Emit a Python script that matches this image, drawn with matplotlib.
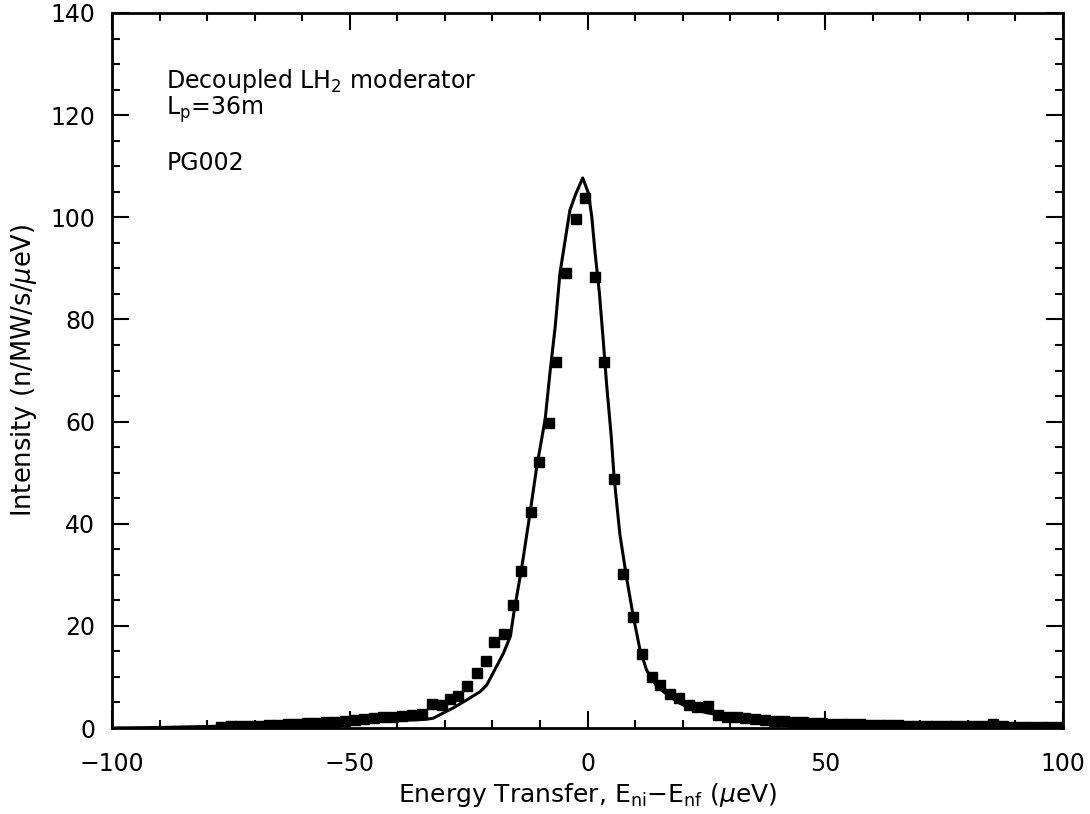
import matplotlib
matplotlib.use("Agg")
import matplotlib.pyplot as plt
from matplotlib.ticker import MultipleLocator

plt.rcParams['font.family'] = ['DejaVu Sans']
plt.rcParams['mathtext.fontset'] = 'dejavusans'

# Measured data (squares)
data_x = [-77, -75, -73, -71, -69, -67, -65, -63, -61, -59, -57, -55, -53, -51,
          -49, -47, -45, -43, -41, -39, -36.9, -34.8, -32.8, -30.7, -28.9, -27.2,
          -25.3, -23.3, -21.4, -19.7, -17.6, -15.7, -14.0, -11.9, -10.1, -8.2,
          -6.6, -4.5, -2.4, -0.5, 1.6, 3.5, 5.6, 7.4, 9.5, 11.4, 13.5, 15.2,
          17.3, 19.3, 21.4, 23.1, 25.3, 27.5, 29.3, 31.4, 33.1, 35.2, 37.3,
          39.3, 41.3, 43.3, 45.3, 47.3, 49.3, 51.3, 53.3, 55.3, 57.3, 59.3,
          61.3, 63.3, 65.3, 67.3, 69.3, 71.3, 73.3, 75.3, 77.3, 79.3, 81.3,
          83.3, 85.3, 87.3, 89.3, 91.3, 93.3, 95.3, 97.3, 99.3]
data_y = [0.25, 0.3, 0.35, 0.4, 0.45, 0.5, 0.6, 0.7, 0.8, 0.9, 1.0, 1.1, 1.2, 1.4,
          1.6, 1.8, 2.0, 2.1, 2.2, 2.3, 2.5, 2.7, 4.7, 4.5, 5.6, 6.3,
          8.2, 10.7, 13.1, 16.8, 18.5, 24.1, 30.7, 42.2, 52.1, 59.7,
          71.7, 89.1, 99.7, 103.8, 88.3, 71.7, 48.7, 30.2, 21.8, 14.5, 10.0, 8.4,
          6.7, 5.8, 4.6, 4.2, 4.3, 2.5, 2.1, 2.1, 1.9, 1.7, 1.6,
          1.4, 1.3, 1.2, 1.1, 1.0, 0.9, 0.8, 0.8, 0.7, 0.7, 0.6,
          0.5, 0.5, 0.5, 0.4, 0.4, 0.4, 0.4, 0.3, 0.3, 0.3, 0.3,
          0.3, 0.7, 0.3, 0.2, 0.2, 0.2, 0.2, 0.2, 0.2]

# Model (solid line)
model_x = [-100, -90, -80, -70, -60, -50, -45, -40, -36, -34, -32.5, -30.4, -28.3,
           -25.4, -22.6, -21.2, -19.5, -17.7, -16.2, -15.5, -13.8, -12.1, -10.7,
           -8.9, -7.9, -6.8, -5.8, -4.7, -3.7, -2.5, -1.0, 0.2, 0.9, 1.6, 2.5, 3.3,
           4.0, 5.0, 5.6, 6.8, 8.2, 9.6, 11.0, 12.4, 14.6, 17.4, 19.5, 21.6, 25,
           30, 35, 40, 50, 60, 75, 90, 100]
model_y = [0.0, 0.1, 0.3, 0.5, 0.8, 1.1, 1.3, 1.5, 1.6, 1.7, 1.9, 2.9, 3.9,
           5.5, 7.1, 8.4, 11.4, 14.6, 18.0, 22.5, 31.6, 42.0, 51.0,
           60.5, 69.5, 78.5, 89.0, 95.5, 101.4, 104.5, 107.7, 104.7, 100.1, 93.0, 85.2, 76.0,
           67.5, 57.0, 49.0, 38.0, 29.5, 22.0, 15.5, 11.4, 8.1, 6.1, 4.8, 3.9, 3.0,
           2.2, 1.7, 1.3, 0.8, 0.5, 0.3, 0.15, 0.1]

x_ticks = [-100, -50, 0, 50, 100]
y_ticks = [0, 20, 40, 60, 80, 100, 120, 140]

fig = plt.figure(figsize=(10.9, 8.14), dpi=100)
ax = fig.add_axes([112/1090, 1 - 728/814, (1063 - 112)/1090, (728 - 13)/814])

ax.plot(model_x, model_y, color='black', lw=2.2, zorder=2)
ax.plot(data_x, data_y, linestyle='none', marker='s', markersize=7,
        color='black', zorder=3)

ax.set_xlim(-100, 100)
ax.set_ylim(0, 140)
ax.set_xticks(x_ticks)
ax.set_yticks(y_ticks)
ax.xaxis.set_minor_locator(MultipleLocator(10))
ax.yaxis.set_minor_locator(MultipleLocator(5))

ax.tick_params(which='both', direction='in', top=True, right=True, width=1.5,
               labelsize=17)
ax.tick_params(which='major', length=12)
ax.tick_params(which='minor', length=5.5)
ax.tick_params(axis='x', which='major', pad=17)
ax.tick_params(axis='y', which='major', pad=12)
for s in ax.spines.values():
    s.set_linewidth(2)

ax.set_xlabel(r'Energy Transfer, E$_{\mathrm{ni}}$−E$_{\mathrm{nf}}$ ($\mu$eV)',
              fontsize=18, labelpad=4)
ax.set_ylabel(r'Intensity (n/MW/s/$\mu$eV)', fontsize=18.5, labelpad=8)

ax.text(-88.6, 125.3, r'Decoupled LH$_2$ moderator', fontsize=17, va='baseline')
ax.text(-88.6, 120.0, r'L$_\mathrm{p}$=36m', fontsize=17, va='baseline')
ax.text(-88.6, 109.3, 'PG002', fontsize=17, va='baseline')

fig.savefig('out.png', dpi=100)
